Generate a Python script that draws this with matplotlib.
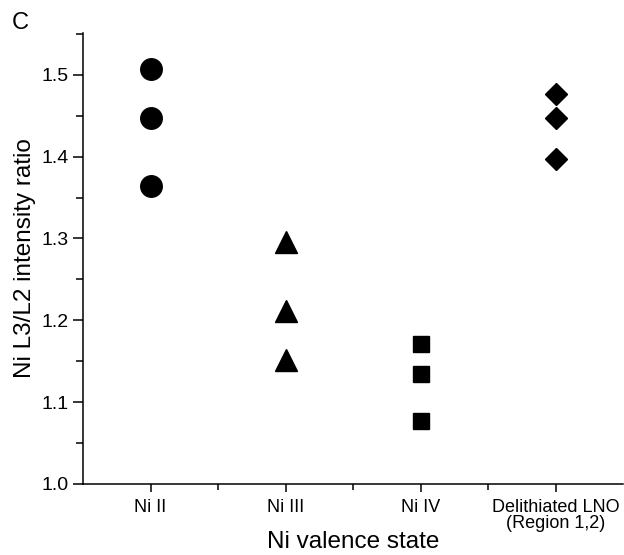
import matplotlib
matplotlib.use('Agg')
import matplotlib.pyplot as plt
from matplotlib.ticker import MultipleLocator

plt.rcParams['font.family'] = ['Liberation Sans', 'DejaVu Sans']

categories = ['Ni II', 'Ni III', 'Ni IV', 'Delithiated LNO\n(Region 1,2)']
ni2 = [1.507, 1.447, 1.364]
ni3 = [1.296, 1.211, 1.152]
ni4 = [1.171, 1.134, 1.077]
delith = [1.476, 1.447, 1.397]

fig = plt.figure(figsize=(6.24, 5.55), dpi=100)
ax = fig.add_axes([0.133, 0.128, 0.866, 0.8125])

groups = [(ni2, 'o', 15.5), (ni3, '^', 15.5), (ni4, 's', 11), (delith, 'D', 11)]
for i, (vals, mk, ms) in enumerate(groups):
    ax.plot([i + 1] * len(vals), vals, linestyle='none', marker=mk, markersize=ms,
            color='black', clip_on=False)

ax.set_xlim(0.5, 4.5)
ax.set_ylim(1.0, 1.551)
ax.set_xticks([1, 2, 3, 4])
ax.set_xticklabels(categories, fontsize=13, linespacing=0.9)
ax.set_xticks([1.5, 2.5, 3.5], minor=True)
ax.yaxis.set_major_locator(MultipleLocator(0.1))
ax.yaxis.set_minor_locator(MultipleLocator(0.05))
ax.yaxis.set_major_formatter(matplotlib.ticker.FormatStrFormatter('%.1f'))

for s in ['top', 'right']:
    ax.spines[s].set_visible(False)
for s in ['left', 'bottom']:
    ax.spines[s].set_linewidth(1.1)

ax.tick_params(axis='y', which='major', length=7, width=1.1, labelsize=14, pad=3)
ax.tick_params(axis='y', which='minor', length=5, width=1.1)
ax.tick_params(axis='x', which='major', length=6, width=1.1, pad=5)
ax.tick_params(axis='x', which='minor', length=4, width=1.1)

ax.set_xlabel('Ni valence state', fontsize=17.5, va='center')
ax.xaxis.set_label_coords(0.5, -0.129)
ax.set_ylabel('Ni L3/L2 intensity ratio', fontsize=17.5, va='center')
ax.yaxis.set_label_coords(-0.107, 0.5)
fig.text(0.019, 0.958, 'C', fontsize=17, ha='left', va='center')

plt.savefig('out.png', dpi=100)
